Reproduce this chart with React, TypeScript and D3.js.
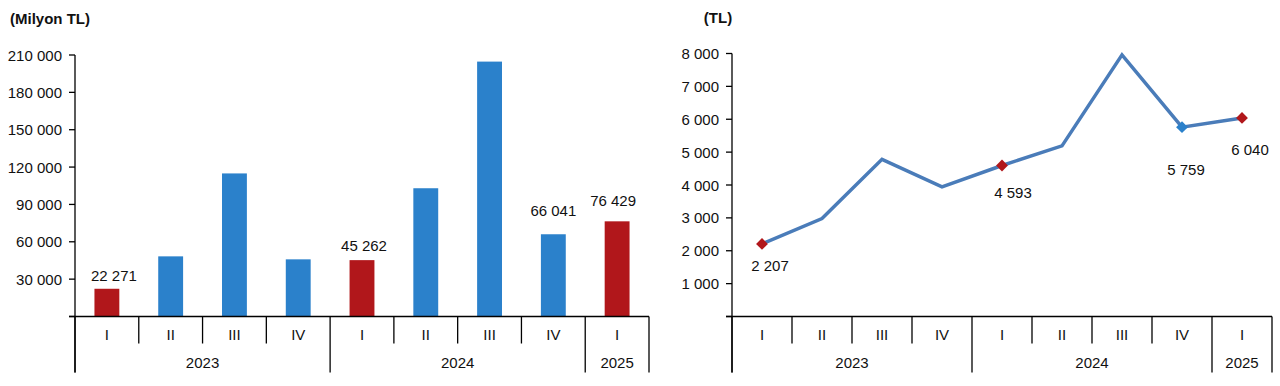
import React from "react";
import * as d3 from "d3";

const quarters = ["I", "II", "III", "IV", "I", "II", "III", "IV", "I"];
const years = [
  { label: "2023", from: 0, to: 4 },
  { label: "2024", from: 4, to: 8 },
  { label: "2025", from: 8, to: 9 },
];
const totalValues = [22271, 48300, 114900, 45900, 45262, 103000, 204700, 66041, 76429];
const totalHighlight = [true, false, false, false, true, false, false, false, true];
const totalLabeled = [true, false, false, false, true, false, false, true, true];
const totalTicks = [0, 30000, 60000, 90000, 120000, 150000, 180000, 210000];

const perCapValues = [2207, 2980, 4780, 3942, 4593, 5190, 7960, 5759, 6040];
const perCapMarker = ["red", null, null, null, "red", null, null, "blue", "red"];
const perCapTicks = [0, 1000, 2000, 3000, 4000, 5000, 6000, 7000, 8000];

// label offsets (style): [dx, dy from mark]
const barLabelDy = [-13, 0, 0, 0, -15, 0, 0, -24, -21];
const barLabelDx = [7, 0, 0, 0, 2, 0, 0, 0, -4];
const lineLabelOff: [number, number][] = [
  [8, 22], [0, 0], [0, 0], [0, 0], [11, 27], [0, 0], [0, 0], [4, 42], [8, 32],
];

const fmt = (v: number) => d3.format(",")(v).replace(/,/g, " ");

const FONT = "'Liberation Sans', Arial, sans-serif";
const BLUE = "#2b81cb";
const RED = "#b1171b";
const LINE = "#4a7cb9";
const TXT = "#111";

function CatAxis({ x, baseY }: { x: d3.ScaleBand<string>; baseY: number }) {
  const bw = x.bandwidth();
  const x0 = x.range()[0];
  const x1 = x.range()[1];
  const ids = quarters.map((_, i) => String(i));
  const yearStarts = new Set(years.map((y) => y.from));
  return (
    <g>
      <line x1={x0 - 6} x2={x1} y1={baseY} y2={baseY} stroke="#000" strokeWidth={1.3} />
      {ids.map((id, i) => {
        const left = x(id)!;
        const long = yearStarts.has(i);
        return (
          <line key={"s" + i} x1={left} x2={left} y1={baseY} y2={long ? baseY + 56 : baseY + 27} stroke="#000" strokeWidth={1.3} />
        );
      })}
      <line x1={x1} x2={x1} y1={baseY} y2={baseY + 56} stroke="#000" strokeWidth={1.3} />
      {ids.map((id, i) => (
        <text key={"q" + i} x={x(id)! + bw / 2} y={baseY + 18} textAnchor="middle" dominantBaseline="central" fontSize={15} fontFamily={FONT} fill={TXT}>
          {quarters[i]}
        </text>
      ))}
      {years.map((y) => (
        <text key={y.label} x={(x(String(y.from))! + x(String(y.to - 1))! + bw) / 2} y={baseY + 46} textAnchor="middle" dominantBaseline="central" fontSize={15} fontFamily={FONT} fill={TXT}>
          {y.label}
        </text>
      ))}
    </g>
  );
}

function YAxis({ y, ticks, axisX, bottom }: { y: d3.ScaleLinear<number, number>; ticks: number[]; axisX: number; bottom: number }) {
  return (
    <g>
      <line x1={axisX} x2={axisX} y1={y(ticks[ticks.length - 1])} y2={bottom} stroke="#000" strokeWidth={1.3} />
      {ticks.map((t) => (
        <g key={t}>
          <line x1={axisX - 6} x2={axisX} y1={y(t)} y2={y(t)} stroke="#000" strokeWidth={1.3} />
          {t !== 0 && (
            <text x={axisX - 13} y={y(t)} textAnchor="end" dominantBaseline="central" fontSize={15} fontFamily={FONT} fill={TXT}>
              {fmt(t)}
            </text>
          )}
        </g>
      ))}
    </g>
  );
}

export default function App() {
  const ids = quarters.map((_, i) => String(i));

  // Left chart
  const xL = d3.scaleBand<string>().domain(ids).range([75, 649]).padding(0);
  const yL = d3.scaleLinear().domain([0, 210000]).range([316.5, 55]);
  const bwL = xL.bandwidth();
  const barW = bwL * 0.39;

  // Right chart
  const xR = d3.scaleBand<string>().domain(ids).range([732, 1272]).padding(0);
  const yR = d3.scaleLinear().domain([0, 8000]).range([316.5, 53.5]);
  const bwR = xR.bandwidth();
  const linePath = d3
    .line<number>()
    .x((_, i) => xR(String(i))! + bwR / 2)
    .y((d) => yR(d))(perCapValues)!;
  const diamond = d3.symbol().type(d3.symbolSquare).size(70)()!;

  return (
    <svg width={1280} height={386} style={{ position: "absolute", left: 0, top: 0, background: "#fff" }}>
      <rect width={1280} height={386} fill="#fff" />
      {/* Left */}
      <text x={50} y={18} textAnchor="middle" dominantBaseline="central" fontSize={15} fontWeight="bold" fontFamily={FONT} fill={TXT}>
        (Milyon TL)
      </text>
      {totalValues.map((v, i) => (
        <rect key={i} x={xL(String(i))! + bwL / 2 - barW / 2} y={yL(v)} width={barW} height={yL(0) - yL(v)} fill={totalHighlight[i] ? RED : BLUE} />
      ))}
      {totalValues.map((v, i) =>
        totalLabeled[i] ? (
          <text key={"l" + i} x={xL(String(i))! + bwL / 2 + barLabelDx[i]} y={yL(v) + barLabelDy[i]} textAnchor="middle" dominantBaseline="central" fontSize={15} fontFamily={FONT} fill={TXT}>
            {fmt(v)}
          </text>
        ) : null
      )}
      <YAxis y={yL} ticks={totalTicks} axisX={75} bottom={372.5} />
      <CatAxis x={xL} baseY={316.5} />

      {/* Right */}
      <text x={718} y={17} textAnchor="middle" dominantBaseline="central" fontSize={15} fontWeight="bold" fontFamily={FONT} fill={TXT}>
        (TL)
      </text>
      <YAxis y={yR} ticks={perCapTicks} axisX={732} bottom={372.5} />
      <CatAxis x={xR} baseY={316.5} />
      <path d={linePath} fill="none" stroke={LINE} strokeWidth={3.5} strokeLinejoin="miter" />
      {perCapValues.map((v, i) =>
        perCapMarker[i] ? (
          <path key={"m" + i} d={diamond} transform={`translate(${xR(String(i))! + bwR / 2},${yR(v)}) rotate(45)`} fill={perCapMarker[i] === "red" ? RED : BLUE} />
        ) : null
      )}
      {perCapValues.map((v, i) =>
        perCapMarker[i] ? (
          <text key={"t" + i} x={xR(String(i))! + bwR / 2 + lineLabelOff[i][0]} y={yR(v) + lineLabelOff[i][1]} textAnchor="middle" dominantBaseline="central" fontSize={15} fontFamily={FONT} fill={TXT}>
            {fmt(v)}
          </text>
        ) : null
      )}
    </svg>
  );
}
